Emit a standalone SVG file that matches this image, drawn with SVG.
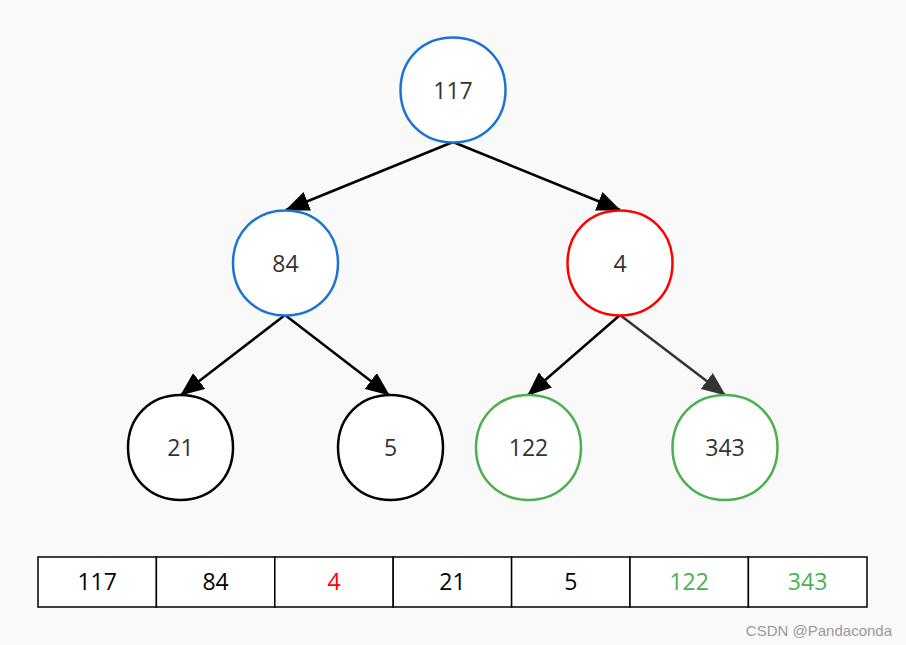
<svg xmlns="http://www.w3.org/2000/svg" width="906" height="645" viewBox="0 0 906 645">
<style>
.n{fill:#fff;stroke-width:2.5}
.blue{stroke:#1b74d2}
.red{stroke:#ff0000}
.green{stroke:#4caf50}
.black{stroke:#000}
.t{font-family:"Open Sans","Noto Sans",sans-serif;font-size:23px;fill:#333;text-anchor:middle;dominant-baseline:central}
.c{fill:#fff;stroke:#000;stroke-width:1.5}
.ct{font-family:"Open Sans","Noto Sans",sans-serif;font-size:23px;fill:#000;text-anchor:middle;dominant-baseline:central}
.e{stroke:#000;stroke-width:2.5;fill:none}
</style>
<defs>
<path id="sq" d="M0,-52.5 C30.5,-52.5 52.5,-30.5 52.5,0 C52.5,30.5 30.5,52.5 0,52.5 C-30.5,52.5 -52.5,30.5 -52.5,0 C-52.5,-30.5 -30.5,-52.5 0,-52.5 Z"/>
<marker id="ah" markerUnits="userSpaceOnUse" markerWidth="24" markerHeight="20" refX="23" refY="10" orient="auto" viewBox="0 0 24 20">
<path d="M0,0 L24,10 L0,20 z" fill="#000"/>
</marker>
<marker id="ahg" markerUnits="userSpaceOnUse" markerWidth="24" markerHeight="20" refX="23" refY="10" orient="auto" viewBox="0 0 24 20">
<path d="M0,0 L24,10 L0,20 z" fill="#333"/>
</marker>
</defs>
<rect width="906" height="645" fill="#f9f9f9"/>
<g id="connectors">
<line class="e" x1="453" y1="142" x2="286" y2="210" marker-end="url(#ah)"/>
<line class="e" x1="453" y1="142" x2="620" y2="210" marker-end="url(#ah)"/>
<line class="e" x1="285" y1="315" x2="181" y2="395" marker-end="url(#ah)"/>
<line class="e" x1="285" y1="315" x2="389" y2="395" marker-end="url(#ah)"/>
<line class="e" x1="620" y1="315" x2="528" y2="395" marker-end="url(#ah)"/>
<line class="e" x1="620" y1="315" x2="725" y2="395" style="stroke:#333" marker-end="url(#ahg)"/>
</g>
<g id="n117"><use href="#sq" class="n blue" x="453" y="90"/><text class="t" x="453" y="90">117</text></g>
<g id="n84"><use href="#sq" class="n blue" x="285.5" y="263"/><text class="t" x="285.5" y="263">84</text></g>
<g id="n4"><use href="#sq" class="n red" x="620" y="263"/><text class="t" x="620" y="263">4</text></g>
<g id="n21"><use href="#sq" class="n black" x="180.5" y="447.5"/><text class="t" x="180.5" y="447">21</text></g>
<g id="n5"><use href="#sq" class="n black" x="390.5" y="447.5"/><text class="t" x="390.5" y="447">5</text></g>
<g id="n122"><use href="#sq" class="n green" x="528.5" y="447.5"/><text class="t" x="528.5" y="447">122</text></g>
<g id="n343"><use href="#sq" class="n green" x="725" y="447.5"/><text class="t" x="725" y="447">343</text></g>
<g id="array">
<rect class="c" x="38" y="557" width="118.4" height="50"/>
<rect class="c" x="156.4" y="557" width="118.4" height="50"/>
<rect class="c" x="274.8" y="557" width="118.4" height="50"/>
<rect class="c" x="393.2" y="557" width="118.4" height="50"/>
<rect class="c" x="511.6" y="557" width="118.4" height="50"/>
<rect class="c" x="630" y="557" width="118.4" height="50"/>
<rect class="c" x="748.4" y="557" width="118.6" height="50"/>
<text class="ct" x="97.2" y="581">117</text>
<text class="ct" x="215.6" y="581">84</text>
<text class="ct" x="334" y="581" style="fill:#ff0000">4</text>
<text class="ct" x="452.4" y="581">21</text>
<text class="ct" x="570.8" y="581">5</text>
<text class="ct" x="689.2" y="581" style="fill:#4caf50">122</text>
<text class="ct" x="807.6" y="581" style="fill:#4caf50">343</text>
</g>
<text x="892" y="636" style="font-family:'Liberation Sans',sans-serif;font-size:15px;fill:#999;text-anchor:end">CSDN @Pandaconda</text>
</svg>
